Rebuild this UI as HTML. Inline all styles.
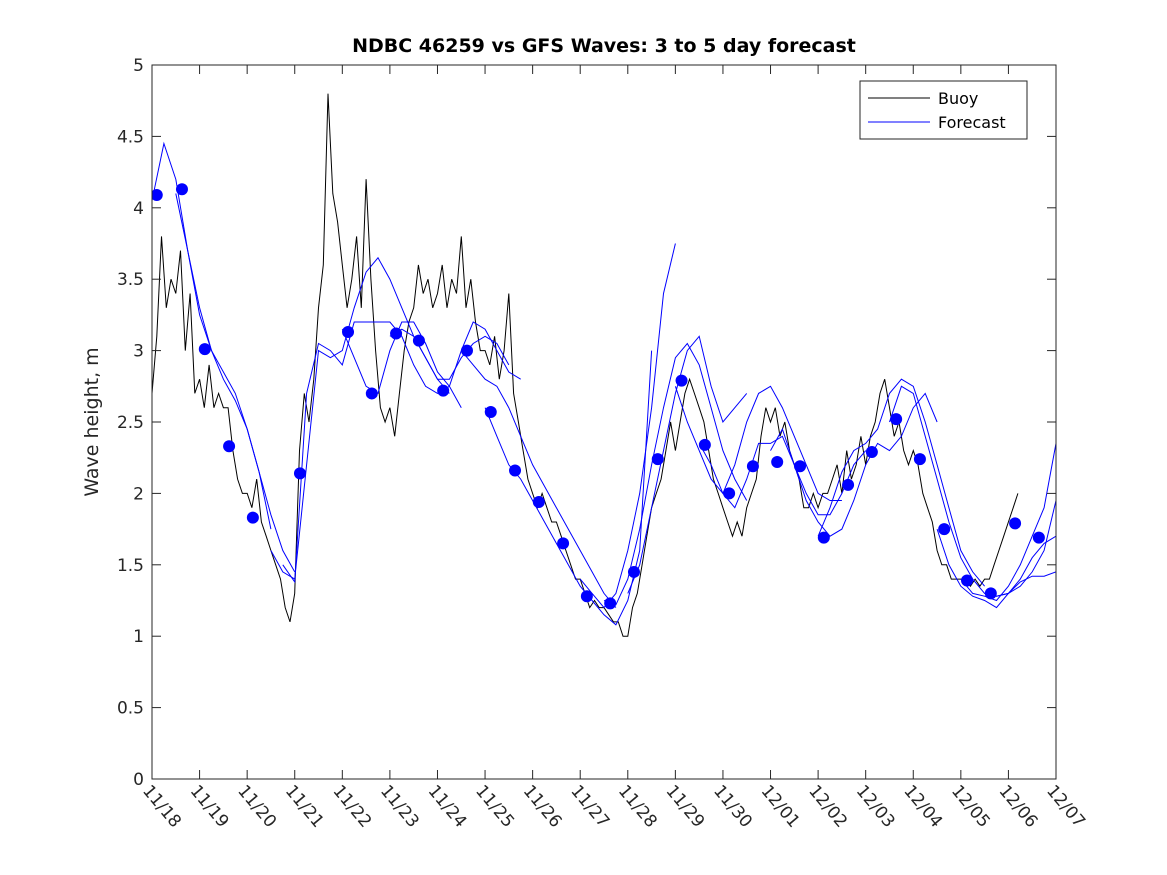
<!DOCTYPE html>
<html><head><meta charset="utf-8"><style>
body{margin:0;background:#fff;}
svg{display:block;font-family:"DejaVu Sans","Liberation Sans",sans-serif;}
</style></head><body>
<svg id="chart" width="1167" height="875" xmlns="http://www.w3.org/2000/svg">
<defs><clipPath id="clip"><rect x="152" y="65" width="904" height="714"/></clipPath></defs>
<rect x="0" y="0" width="1167" height="875" fill="#fff"/>
<text x="604" y="52" text-anchor="middle" font-size="19" font-weight="bold" fill="#000">NDBC 46259 vs GFS Waves: 3 to 5 day forecast</text>
<text transform="translate(98,422) rotate(-90)" text-anchor="middle" font-size="19" fill="#262626">Wave height, m</text>
<g id="plot" clip-path="url(#clip)"></g>
<g id="axes"></g>
<g>
<rect x="860" y="81" width="167" height="58" fill="#fff" stroke="#262626" stroke-width="1"/>
<line x1="868" y1="98" x2="930" y2="98" stroke="#000" stroke-width="1"/>
<text x="938" y="104" font-size="16" fill="#000">Buoy</text>
<line x1="868" y1="122" x2="930" y2="122" stroke="#00f" stroke-width="1"/>
<text x="938" y="128" font-size="16" fill="#000">Forecast</text>
</g>
</svg>
<script>
const xTickLabels=["11/18","11/19","11/20","11/21","11/22","11/23","11/24","11/25","11/26","11/27","11/28","11/29","11/30","12/01","12/02","12/03","12/04","12/05","12/06","12/07"];
const yTickLabels=["0","0.5","1","1.5","2","2.5","3","3.5","4","4.5","5"];
const buoyStep=0.1;
const buoy=[2.7,3.1,3.8,3.3,3.5,3.4,3.7,3.0,3.4,2.7,
2.8,2.6,2.9,2.6,2.7,2.6,2.6,2.3,2.1,2.0,
2.0,1.9,2.1,1.8,1.7,1.6,1.5,1.4,1.2,1.1,
1.3,2.3,2.7,2.5,2.8,3.3,3.6,4.8,4.1,3.9,
3.6,3.3,3.5,3.8,3.3,4.2,3.5,3.0,2.6,2.5,
2.6,2.4,2.7,3.0,3.2,3.3,3.6,3.4,3.5,3.3,
3.4,3.6,3.3,3.5,3.4,3.8,3.3,3.5,3.2,3.0,
3.0,2.9,3.1,2.8,3.0,3.4,2.7,2.5,2.3,2.1,
2.0,1.9,2.0,1.9,1.8,1.8,1.7,1.6,1.5,1.4,
1.4,1.3,1.2,1.25,1.2,1.2,1.15,1.1,1.1,1.0,
1.0,1.2,1.3,1.5,1.7,1.9,2.0,2.1,2.3,2.5,
2.3,2.5,2.7,2.8,2.7,2.6,2.5,2.3,2.1,2.0,
1.9,1.8,1.7,1.8,1.7,1.9,2.0,2.1,2.4,2.6,
2.5,2.6,2.4,2.5,2.3,2.2,2.1,1.9,1.9,2.0,
1.9,2.0,2.0,2.1,2.2,2.0,2.3,2.1,2.2,2.4,
2.2,2.4,2.5,2.7,2.8,2.6,2.4,2.5,2.3,2.2,
2.3,2.2,2.0,1.9,1.8,1.6,1.5,1.5,1.4,1.4,
1.4,1.4,1.35,1.4,1.35,1.4,1.4,1.5,1.6,1.7,
1.8,1.9,2.0];
const runStep=0.25;
const runStarts=[0.0,0.5,2.5,2.75,4.0,5.0,6.5,7.0,9.0,9.5,10.0,11.0,11.5,13.0,14.0,15.5,16.5,17.0,17.5];
const runValues=[
[4.05,4.45,4.2,3.7,3.25,3.0,2.85,2.7,2.45,2.15,1.85,1.6,1.45],
[4.1,3.7,3.3,3.0,2.8,2.65,2.45,2.15,1.75],
[1.6,1.45,1.4,2.2,3.0,2.95,3.0,3.3,3.55,3.65,3.5,3.3,3.1,2.95,2.8,2.7],
[1.5,1.38,2.7,3.05,3.0,2.9,3.2,3.2,3.2,3.2,3.1,2.9,2.75,2.7,2.75,3.0,3.2,3.15,3.0,2.85,2.8],
[3.15,2.95,2.75,2.7,3.0,3.2,3.2,3.05,2.85,2.75,2.6],
[3.1,3.15,3.1,2.95,2.8,2.8,2.95,3.05,3.1,3.05,2.9],
[3.0,2.9,2.8,2.75,2.6,2.4,2.2,2.05,1.9,1.75,1.6,1.45,1.3,1.2],
[2.6,2.4,2.2,2.1,1.95,1.8,1.65,1.5,1.35,1.25,1.15,1.08,1.25,1.6,3.0],
[1.4,1.3,1.2,1.3,1.6,2.0,2.6,3.4,3.75],
[1.25,1.22,1.4,1.75,2.2,2.6,2.95,3.05,2.9,2.6,2.3,2.1,1.95],
[1.3,1.5,1.9,2.3,2.7,3.0,3.1,2.75,2.5,2.6,2.7],
[2.75,2.5,2.3,2.1,2.0,2.2,2.5,2.7,2.75,2.6,2.4,2.2,2.0,1.95,1.95],
[2.35,2.2,2.0,1.9,2.1,2.35,2.35,2.4,2.2,2.0,1.85,1.85,2.0,2.2,2.3],
[2.3,2.45,2.2,1.95,1.8,1.7,1.75,1.95,2.2,2.35,2.3,2.4,2.6,2.7,2.5],
[1.7,1.9,2.15,2.3,2.35,2.45,2.7,2.8,2.75,2.5,2.2,1.9,1.6,1.45,1.35],
[2.5,2.75,2.7,2.4,2.1,1.8,1.55,1.4,1.3,1.28,1.3,1.35,1.45,1.6,1.95,2.05,2.1],
[1.75,1.5,1.35,1.28,1.25,1.2,1.3,1.38,1.42,1.42,1.45],
[1.4,1.3,1.28,1.25,1.35,1.5,1.7,1.9,2.35],
[1.3,1.28,1.3,1.4,1.55,1.65,1.7]];
const dotDays=[0.1,0.63,1.11,1.62,2.12,3.11,4.12,4.62,5.13,5.61,6.12,6.62,7.12,7.63,8.13,8.64,9.14,9.63,10.13,10.63,11.13,11.62,12.13,12.63,13.14,13.62,14.12,14.63,15.13,15.64,16.14,16.65,17.13,17.63,18.14,18.64];
const dotValues=[4.09,4.13,3.01,2.33,1.83,2.14,3.13,2.70,3.12,3.07,2.72,3.00,2.57,2.16,1.94,1.65,1.28,1.23,1.45,2.24,2.79,2.34,2.00,2.19,2.22,2.19,1.69,2.06,2.29,2.52,2.24,1.75,1.39,1.30,1.79,1.69];

const X0=152,X1=1056,Y0=779,Y1=65;
const xs=d=>X0+(X1-X0)*d/19;
const ys=v=>Y0-(Y0-Y1)*v/5;
const NS="http://www.w3.org/2000/svg";
const plot=document.getElementById('plot'),axes=document.getElementById('axes');
function mk(tag,attrs,parent){const e=document.createElementNS(NS,tag);for(const k in attrs)e.setAttribute(k,attrs[k]);parent.appendChild(e);return e;}
const bp=buoy.map((v,i)=>xs(i*buoyStep).toFixed(1)+','+ys(v).toFixed(1)).join(' ');
const bl=mk('polyline',{points:bp,fill:'none',stroke:'#000','stroke-width':1},plot);


runValues.forEach((vals,k)=>{
 const p=vals.map((v,i)=>xs(runStarts[k]+i*runStep).toFixed(1)+','+ys(v).toFixed(1)).join(' ');
 const pl=mk('polyline',{points:p,fill:'none',stroke:'#00f','stroke-width':1},plot);
 
 
});
dotDays.forEach((dd,i)=>{
 const c=mk('circle',{cx:xs(dd),cy:ys(dotValues[i]),r:6,fill:'#00f'},plot);
 
 
});
const fr=mk('rect',{x:X0,y:Y1,width:X1-X0,height:Y0-Y1,fill:'none',stroke:'#262626','stroke-width':1},axes);


yTickLabels.forEach((t,i)=>{
 const y=ys(i*0.5);
 mk('line',{x1:X0,y1:y,x2:X0+9,y2:y,stroke:'#262626'},axes);
 mk('line',{x1:X1,y1:y,x2:X1-9,y2:y,stroke:'#262626'},axes);
 const tx=mk('text',{x:X0-8,y:y+6,'text-anchor':'end','font-size':17,fill:'#262626'},axes);
 tx.textContent=t;
 
 
});
xTickLabels.forEach((t,i)=>{
 const x=xs(i);
 mk('line',{x1:x,y1:Y0,x2:x,y2:Y0-9,stroke:'#262626'},axes);
 mk('line',{x1:x,y1:Y1,x2:x,y2:Y1+9,stroke:'#262626'},axes);
 const tx=mk('text',{x:0,y:0,'font-size':17,fill:'#262626',transform:`translate(${x-10},${Y0+12}) rotate(50)`},axes);
 tx.textContent=t;
 
 
});
</script>
</body></html>
